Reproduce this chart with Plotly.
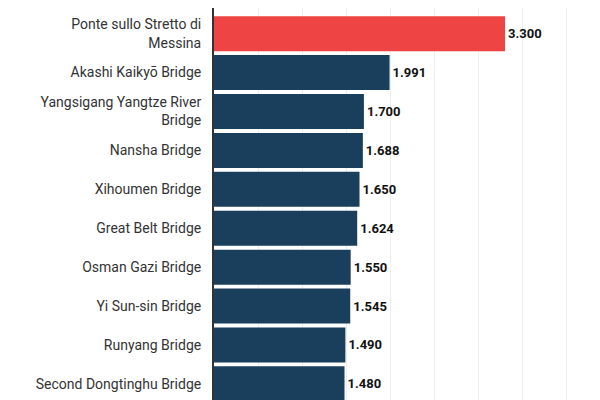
import plotly.graph_objects as go

bridges = ['Ponte sullo Stretto di<br>Messina', 'Akashi Kaikyō Bridge',
           'Yangsigang Yangtze River<br>Bridge', 'Nansha Bridge', 'Xihoumen Bridge',
           'Great Belt Bridge', 'Osman Gazi Bridge', 'Yi Sun-sin Bridge',
           'Runyang Bridge', 'Second Dongtinghu Bridge']
span_km = [3.300, 1.991, 1.700, 1.688, 1.650, 1.624, 1.550, 1.545, 1.490, 1.480]
colors = ['#ef4444'] + ['#1a3f5c'] * (len(bridges) - 1)

fig = go.Figure(go.Bar(
    x=span_km, y=bridges, orientation='h',
    marker=dict(color=colors, line=dict(width=0)), width=0.9,
    text=['<b>%.3f</b>' % v for v in span_km], textposition='outside',
    textfont=dict(family='Roboto', size=13, color='#111111'),
    cliponaxis=False,
))
fig.update_layout(
    width=600, height=400, margin=dict(l=206, r=6, t=0, b=0),
    plot_bgcolor='white', paper_bgcolor='white', showlegend=False,
    font=dict(family='Roboto', size=14, color='#333333'),
)
fig.update_xaxes(range=[0, 4.4], dtick=0.5, showticklabels=False,
                 showgrid=True, gridcolor='#eeeeee', zeroline=False)
fig.update_yaxes(type='category', range=[9.62, -0.66], ticks='',
                 showline=True, linecolor='#333333', linewidth=2,
                 ticklabelstandoff=8)
fig.write_html('out.html')
